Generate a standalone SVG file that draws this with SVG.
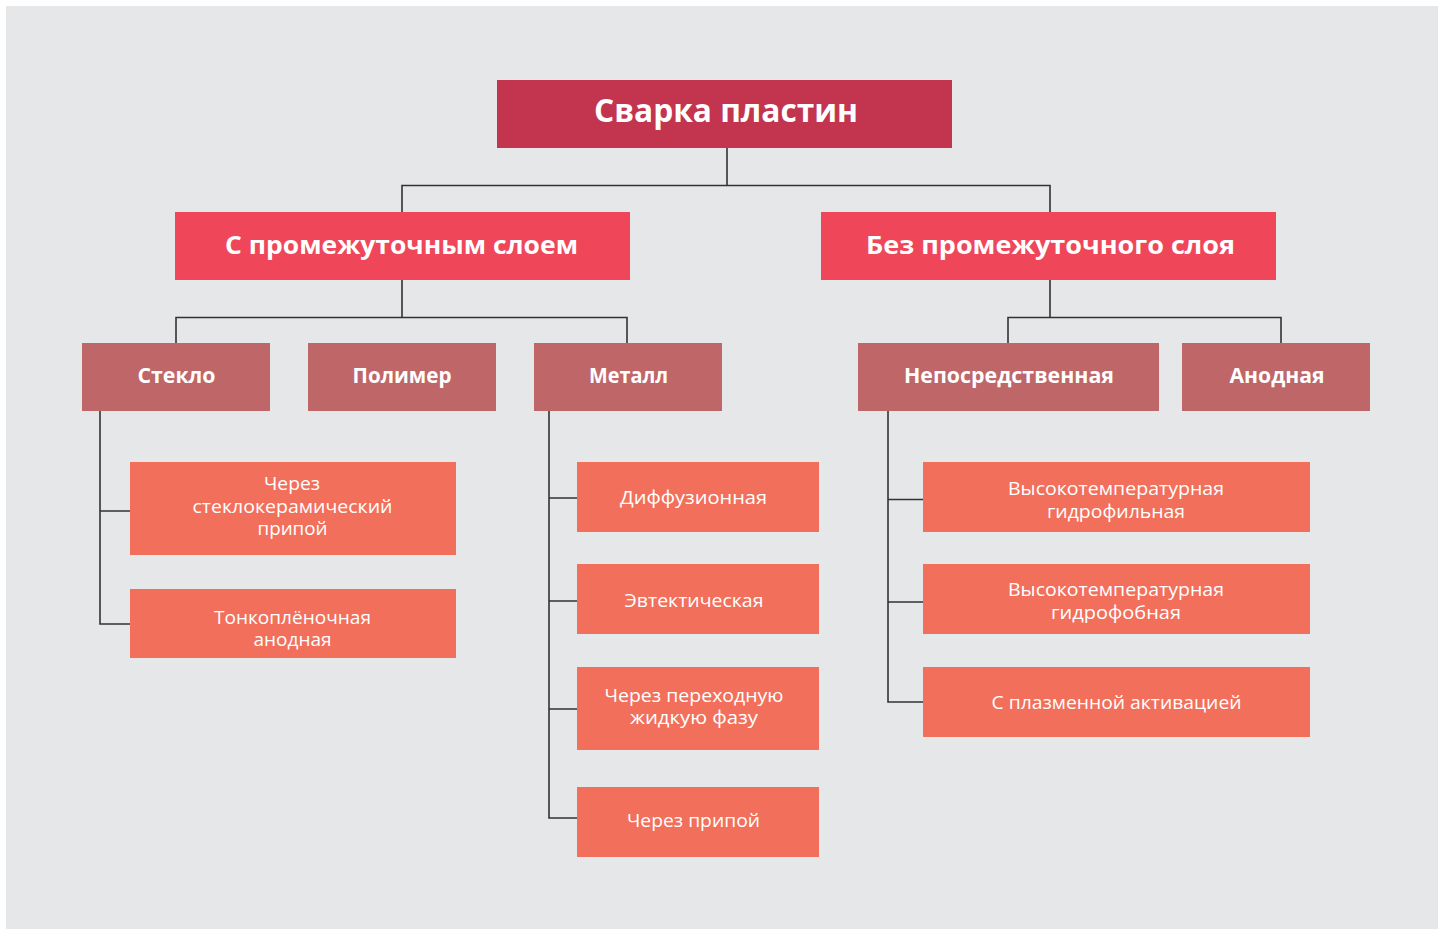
<svg xmlns="http://www.w3.org/2000/svg" width="1438" height="929" viewBox="0 0 1438 929">
<style>
.bg{fill:#e6e7e9}
.n0{fill:#c3344f}
.n1{fill:#ef4659}
.n2{fill:#bf6669}
.n3{fill:#f2705b}
.t{fill:#ffffff;font-family:"Open Sans","Noto Sans","Liberation Sans",sans-serif;text-anchor:middle}
.b0{font-size:33px;font-weight:700}
.b1{font-size:24.5px;font-weight:700}
.b2{font-size:21px;font-weight:700}
.r{font-size:17.5px;font-weight:400}
.c{fill:none;stroke:#333333;stroke-width:1.6}
</style>
<rect x="0" y="0" width="1438" height="929" fill="#ffffff"/>
<rect class="bg" x="6" y="6" width="1432" height="923"/>
<g id="connectors">
<path class="c" d="M727 148V185.5M402 212V185.5H1050V212"/>
<path class="c" d="M402 280V317.5M176 343V317.5H627V343"/>
<path class="c" d="M1050 280V317.5M1008 343V317.5H1281V343"/>
<path class="c" d="M100 411V624H130M100 511H130"/>
<path class="c" d="M549 411V818H577M549 498H577M549 601H577M549 709H577"/>
<path class="c" d="M888 411V702H923M888 499.5H923M888 602H923"/>
</g>
<g id="root"><rect class="n0" x="497" y="80" width="455" height="68"/><text class="t b0" x="726" y="122" textLength="264" lengthAdjust="spacingAndGlyphs">Сварка пластин</text></g>
<g id="with-layer"><rect class="n1" x="175" y="212" width="455" height="68"/><text class="t b1" x="401.5" y="253.5" textLength="353" lengthAdjust="spacingAndGlyphs">С промежуточным слоем</text></g>
<g id="without-layer"><rect class="n1" x="821" y="212" width="455" height="68"/><text class="t b1" x="1050.5" y="253.5" textLength="369" lengthAdjust="spacingAndGlyphs">Без промежуточного слоя</text></g>
<g id="glass"><rect class="n2" x="82" y="343" width="188" height="68"/><text class="t b2" x="176.5" y="383" textLength="78" lengthAdjust="spacingAndGlyphs">Стекло</text></g>
<g id="polymer"><rect class="n2" x="308" y="343" width="188" height="68"/><text class="t b2" x="402" y="383" textLength="99" lengthAdjust="spacingAndGlyphs">Полимер</text></g>
<g id="metal"><rect class="n2" x="534" y="343" width="188" height="68"/><text class="t b2" x="628.5" y="383" textLength="79" lengthAdjust="spacingAndGlyphs">Металл</text></g>
<g id="direct"><rect class="n2" x="858" y="343" width="301" height="68"/><text class="t b2" x="1009" y="383" textLength="210" lengthAdjust="spacingAndGlyphs">Непосредственная</text></g>
<g id="anodic"><rect class="n2" x="1182" y="343" width="188" height="68"/><text class="t b2" x="1277" y="383" textLength="95" lengthAdjust="spacingAndGlyphs">Анодная</text></g>
<g id="glass-ceramic"><rect class="n3" x="130" y="462" width="326" height="93"/>
<text class="t r" x="292" y="490" textLength="56" lengthAdjust="spacingAndGlyphs">Через</text>
<text class="t r" x="292.5" y="512.5" textLength="200" lengthAdjust="spacingAndGlyphs">стеклокерамический</text>
<text class="t r" x="292.5" y="535" textLength="70" lengthAdjust="spacingAndGlyphs">припой</text></g>
<g id="thin-film"><rect class="n3" x="130" y="589" width="326" height="69"/>
<text class="t r" x="292.5" y="623.5" textLength="157" lengthAdjust="spacingAndGlyphs">Тонкоплёночная</text>
<text class="t r" x="292.5" y="646" textLength="78" lengthAdjust="spacingAndGlyphs">анодная</text></g>
<g id="diffusion"><rect class="n3" x="577" y="462" width="242" height="70"/><text class="t r" x="693.5" y="504" textLength="147" lengthAdjust="spacingAndGlyphs">Диффузионная</text></g>
<g id="eutectic"><rect class="n3" x="577" y="564" width="242" height="70"/><text class="t r" x="694" y="607" textLength="139" lengthAdjust="spacingAndGlyphs">Эвтектическая</text></g>
<g id="tlp"><rect class="n3" x="577" y="667" width="242" height="83"/>
<text class="t r" x="694" y="702" textLength="179" lengthAdjust="spacingAndGlyphs">Через переходную</text>
<text class="t r" x="694" y="724" textLength="128" lengthAdjust="spacingAndGlyphs">жидкую фазу</text></g>
<g id="solder"><rect class="n3" x="577" y="787" width="242" height="70"/><text class="t r" x="693.5" y="826.5" textLength="133" lengthAdjust="spacingAndGlyphs">Через припой</text></g>
<g id="hydrophilic"><rect class="n3" x="923" y="462" width="387" height="70"/>
<text class="t r" x="1116" y="494.5" textLength="216" lengthAdjust="spacingAndGlyphs">Высокотемпературная</text>
<text class="t r" x="1116" y="517.5" textLength="138" lengthAdjust="spacingAndGlyphs">гидрофильная</text></g>
<g id="hydrophobic"><rect class="n3" x="923" y="564" width="387" height="70"/>
<text class="t r" x="1116" y="595.5" textLength="216" lengthAdjust="spacingAndGlyphs">Высокотемпературная</text>
<text class="t r" x="1116" y="618.5" textLength="130" lengthAdjust="spacingAndGlyphs">гидрофобная</text></g>
<g id="plasma"><rect class="n3" x="923" y="667" width="387" height="70"/><text class="t r" x="1116.5" y="708.5" textLength="250" lengthAdjust="spacingAndGlyphs">С плазменной активацией</text></g>
</svg>
